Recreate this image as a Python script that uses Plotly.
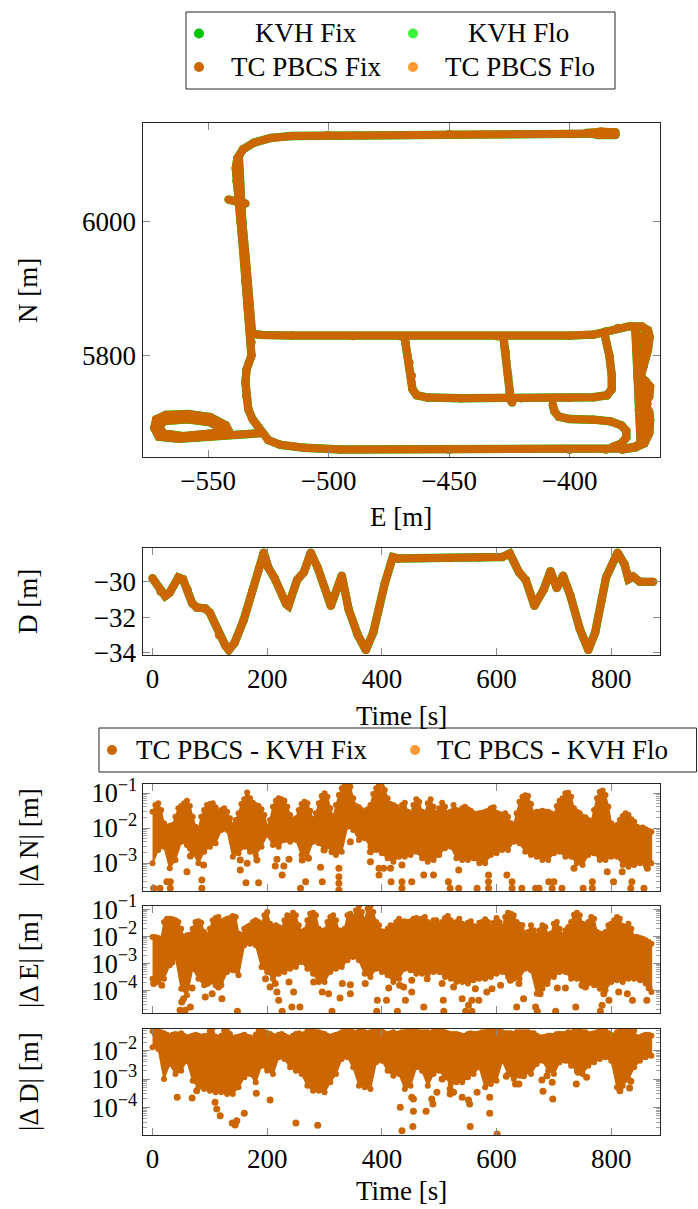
import plotly.graph_objects as go

W, H = 698, 1209
FONT = "Liberation Serif"
FS = 27
C_KVH_FIX = "#00C400"
C_KVH_FLO = "#3CF53C"
C_TC_FIX = "#CC6600"
C_TC_FLO = "#FF9933"

# ---------------- trajectory (E [m], N [m]) segments ----------------
seg_outer = [(-381, 6131.5), (-400, 6131), (-450, 6130.5), (-500, 6129.5), (-515, 6128), (-524, 6125),
             (-531, 6118), (-535.5, 6108), (-537.8, 6095), (-538.5, 6080), (-538.2, 6060), (-537.5, 6030),
             (-536.5, 6000), (-535.5, 5960), (-534.5, 5910), (-533.5, 5870), (-532.5, 5840), (-532, 5820),
             (-532, 5800), (-533, 5790), (-534, 5780), (-534.5, 5760), (-534.2, 5740), (-533.3, 5720),
             (-531.5, 5705), (-529.5, 5695), (-527.5, 5685), (-525, 5674), (-520, 5667), (-510, 5662.5),
             (-495, 5660), (-450, 5659.5), (-400, 5659.5), (-385, 5660), (-377, 5661.5), (-373, 5664),
             (-370.5, 5669)]
seg_top_blob = [(-381, 6133.5), (-387, 6134.5), (-393, 6132.5), (-388, 6129.5), (-381, 6129.5)]
seg_double = [(-537.2, 6095), (-536.8, 6060), (-535.8, 6000), (-534, 5930), (-532.5, 5860), (-531.8, 5835)]
seg_stub = [(-541.5, 6033), (-534.5, 6027)]
seg_loop = [(-527.5, 5684.5), (-534, 5683), (-541.6, 5683.5), (-549.1, 5679), (-562.1, 5676), (-570.4, 5679),
            (-572.3, 5692), (-571.5, 5705), (-567.6, 5711.5), (-558.4, 5713), (-549.1, 5708.5), (-542.6, 5696),
            (-541.5, 5688), (-547.2, 5684.5), (-560.2, 5680), (-568.5, 5684), (-570.5, 5695), (-568, 5702.5),
            (-558.4, 5705), (-549.1, 5700.5), (-544, 5692), (-542, 5686)]
seg_middle = [(-532.2, 5833), (-528, 5831), (-515, 5830), (-490, 5829.5), (-470, 5829), (-430, 5829),
              (-400, 5830), (-390, 5831.5), (-385, 5836), (-380, 5841.5), (-375, 5844), (-370, 5843.5),
              (-367.5, 5838), (-366.8, 5828), (-367.5, 5808.5), (-369.4, 5783.6), (-370.5, 5768.7),
              (-368.3, 5761.2), (-366.6, 5753.7), (-367, 5738.8), (-369.0, 5728.9), (-367, 5716.4),
              (-366.6, 5704), (-367, 5684.1), (-369, 5669.2), (-372.7, 5663.2), (-378.3, 5660)]
seg_strand2 = [(-372.7, 5838), (-372.4, 5808.5), (-371.8, 5768.7), (-371.3, 5718.9), (-370.5, 5669.2)]
seg_strand3 = [(-370.5, 5830), (-368.9, 5818.4), (-369.2, 5798.5), (-371.3, 5778.6), (-369.2, 5748.8),
               (-367.8, 5728.9), (-369.2, 5699), (-369.2, 5674)]
seg_inner = [(-468.5, 5829), (-468, 5818), (-467.5, 5805), (-466.5, 5790), (-465.5, 5770), (-465.2, 5750),
             (-463.5, 5741), (-459, 5737.5), (-445, 5736.5), (-420, 5736.5), (-400, 5737), (-390, 5738),
             (-384.5, 5741), (-382.5, 5750), (-382.5, 5770), (-383.5, 5800), (-385.5, 5832)]
seg_cross = [(-427.5, 5829), (-426.5, 5805), (-425.5, 5770), (-424.8, 5745), (-424.5, 5734), (-423.8, 5730)]
seg_hook = [(-407, 5727), (-406.3, 5717), (-404.5, 5709), (-400, 5705.5), (-390, 5704.5), (-383, 5702),
            (-378.5, 5696), (-376.5, 5688), (-376.5, 5678), (-378.5, 5669), (-382, 5664)]
track_segments = [seg_outer, seg_top_blob, seg_double, seg_stub, seg_loop, seg_middle,
                  seg_strand2, seg_strand3, seg_inner, seg_cross, seg_hook]

# ---------------- Down component vs time ----------------
d_time = [0, 14, 22, 30, 45, 53, 61, 69, 77, 92, 100, 116, 127, 133, 143, 159, 174, 186, 194, 202,
          213, 233, 237, 252, 264, 276, 288, 311, 330, 342, 358, 372, 385, 405, 419, 428, 470, 520,
          570, 610, 623, 639, 651, 666, 682, 694, 705, 716, 729, 745, 760, 772, 791, 811, 823, 830,
          838, 850, 873]
d_down = [-29.8, -30.55, -30.8, -30.6, -29.75, -29.85, -30.45, -31.2, -31.45, -31.5, -31.75, -33.0,
          -33.6, -33.85, -33.45, -32.15, -30.5, -29.2, -28.35, -29.2, -29.8, -31.25, -31.35, -29.9,
          -29.45, -28.35, -29.2, -31.35, -29.65, -31.55, -33.0, -33.85, -32.85, -30.1, -28.6, -28.68,
          -28.65, -28.65, -28.63, -28.6, -28.4, -29.45, -29.9, -31.35, -30.45, -29.4, -30.35, -29.65,
          -30.8, -32.65, -33.85, -32.85, -29.75, -28.35, -29.0, -29.85, -29.7, -30.0, -30.0]

# ---------------- |TC PBCS - KVH Fix| errors ----------------
# upper envelope of the dense point cloud, every 5 s from t = 0 s
dN_upper = [0.0293, 0.0454, 0.0507, 0.0327, 0.0136, 0.0109, 0.0114, 0.0122, 0.0211, 0.0365,
            0.0426, 0.0507, 0.0604, 0.0426, 0.0211, 0.0109, 0.00916, 0.0211, 0.0327, 0.0454,
            0.0485, 0.0507, 0.0389, 0.0293, 0.0327, 0.0365, 0.0293, 0.0189, 0.0122, 0.0169,
            0.0262, 0.0485, 0.0659, 0.104, 0.0705, 0.053, 0.0454, 0.0426, 0.0341, 0.0235,
            0.0109, 0.0169, 0.0407, 0.0604, 0.0705, 0.0659, 0.0604, 0.0407, 0.0235, 0.0169,
            0.0189, 0.0327, 0.0485, 0.0565, 0.0507, 0.0313, 0.0177, 0.0262, 0.0507, 0.082,
            0.098, 0.0785, 0.0365, 0.0211, 0.0454, 0.0877, 0.136, 0.169, 0.189, 0.152,
            0.0705, 0.0426, 0.0389, 0.0327, 0.0293, 0.0341, 0.0454, 0.0935, 0.136, 0.169,
            0.152, 0.122, 0.0705, 0.0485, 0.0454, 0.0407, 0.0327,
            0.0454, 0.053, 0.0293, 0.0262, 0.0454, 0.0659, 0.0565, 0.0293, 0.0262, 0.0507,
            0.0659, 0.0407, 0.0262, 0.0365, 0.053, 0.0407, 0.0262, 0.0293, 0.0454, 0.0327,
            0.0293, 0.0365, 0.0407, 0.0341, 0.0313, 0.0262, 0.0251, 0.0262, 0.0274, 0.0293,
            0.0313, 0.0365, 0.0389, 0.0274, 0.0251, 0.0235, 0.0262, 0.0211, 0.0136, 0.0122,
            0.0262, 0.0565, 0.0785, 0.0857, 0.082, 0.0485, 0.0262, 0.0293, 0.0293, 0.0313,
            0.0293, 0.0293, 0.0262, 0.0235, 0.0426, 0.0604, 0.0705, 0.098, 0.102, 0.0785,
            0.0365, 0.0293, 0.0262, 0.0211, 0.0202, 0.0169, 0.0152, 0.0327, 0.0705, 0.109,
            0.117, 0.0877, 0.0407, 0.0136, 0.0109, 0.0122, 0.0169, 0.022, 0.0262, 0.0235,
            0.0177, 0.0152, 0.0109, 0.00977, 0.0104, 0.00916, 0.0084, 0.00786]
# lower edge of the dense cloud, every 10 s from t = 0 s
dN_lower = [9.77e-4, 2.35e-3, 2.93e-3, 7.05e-4, 1.22e-3, 4.07e-3, 3.27e-3, 2.11e-3, 9.77e-4, 2.11e-3,
            2.93e-3, 3.65e-3, 8.77e-3, 8.77e-3, 1.52e-3, 1.89e-3, 2.93e-3, 2.11e-3, 1.69e-3, 2.93e-3,
            6.3e-3, 3.27e-3, 2.93e-3, 4.54e-3, 4.07e-3, 4.54e-3, 1.69e-3, 1.52e-3, 4.07e-3, 3.65e-3,
            2.35e-3, 2.93e-3, 1.69e-3, 2.11e-3, 1.09e-2, 8.77e-3, 4.54e-3, 5.07e-3, 2.93e-3, 2.35e-3,
            1.89e-3, 1.36e-3, 1.09e-3, 1.52e-3,
            1.52e-3, 1.69e-3, 2.11e-3, 1.36e-3, 1.09e-3, 1.22e-3, 1.69e-3, 2.62e-3, 2.93e-3, 1.36e-3,
            1.22e-3, 1.22e-3, 1.36e-3, 9.77e-4, 9.77e-4, 1.69e-3, 1.89e-3, 2.35e-3, 2.35e-3, 4.07e-3,
            3.65e-3, 2.11e-3, 1.69e-3, 1.52e-3, 1.22e-3, 1.22e-3, 1.89e-3, 2.11e-3, 1.52e-3, 1.52e-3,
            9.77e-4, 8.77e-4, 1.69e-3, 1.89e-3, 1.22e-3, 1.22e-3, 1.52e-3, 1.52e-3, 8.77e-4, 7.85e-4,
            8.77e-4, 9.77e-4, 8.77e-4, 9.77e-4]
dN_isolated = [(2, 1.89e-4), (13, 1.89e-4), (31, 1.89e-4), (25, 2.93e-4), (31, 2.93e-4), (60, 5.65e-4),
               (66, 1.58e-3), (66, 2.62e-3), (86, 1.89e-4), (86, 3.27e-4), (89, 8.77e-4), (153, 1.22e-3),
               (153, 6.31e-4), (163, 2.74e-4), (165, 9.77e-4), (182, 1.22e-3), (185, 2.74e-4), (214, 8.2e-4),
               (217, 1.27e-3), (229, 8.2e-4), (226, 4.54e-4), (238, 1.27e-3), (258, 1.89e-4), (261, 1.22e-3),
               (267, 2.93e-4), (272, 1.36e-3), (293, 7.52e-4), (296, 2.93e-4), (299, 2.35e-3), (313, 2.11e-3),
               (325, 7.05e-4), (325, 4.07e-4), (325, 2.62e-4), (325, 1.69e-4), (345, 4.07e-3), (380, 2.11e-3),
               (380, 1.09e-3), (395, 7.05e-4), (395, 4.54e-4), (403, 7.05e-4), (415, 7.05e-4), (416, 2.93e-4),
               (435, 8.77e-4), (435, 2.93e-4), (435, 1.89e-4), (452, 2.93e-4), (473, 4.54e-4), (490, 4.54e-4),
               (516, 2.93e-4), (519, 1.89e-4), (534, 1.89e-4), (534, 6.31e-4), (566, 1.89e-4), (586, 1.89e-4),
               (586, 2.93e-4), (586, 4.54e-4), (618, 4.54e-4), (627, 2.93e-4), (627, 1.89e-4), (644, 1.89e-4),
               (668, 1.89e-4), (674, 1.89e-4), (691, 2.93e-4), (697, 1.89e-4), (700, 2.93e-4), (714, 1.89e-4),
               (735, 7.05e-4), (751, 1.89e-4), (767, 2.93e-4), (767, 1.89e-4), (793, 5.65e-4), (804, 2.93e-4),
               (819, 5.65e-4), (834, 1.89e-4), (836, 2.93e-4), (857, 1.89e-4), (863, 7.05e-4)]

dE_upper = [9.44e-3, 9.44e-3, 8.67e-3, 8.2e-3, 3.4e-2, 4.51e-2, 4.51e-2, 4.27e-2, 3.92e-2, 3.4e-2,
            1.92e-2, 9.44e-3, 1.09e-2, 1.15e-2, 1.92e-2, 3.4e-2, 3.6e-2, 3.21e-2, 1.45e-2, 1.09e-2,
            1.92e-2, 3.92e-2, 4.78e-2, 5.2e-2, 3.4e-2, 3.92e-2, 4.51e-2, 4.78e-2, 5.66e-2, 5.2e-2,
            1.26e-2, 1.09e-2, 1.92e-2, 2.22e-2, 2.55e-2, 3.4e-2, 3.92e-2, 3.4e-2, 2.94e-2, 6.0e-2,
            7.96e-2, 2.94e-2, 2.22e-2, 2.55e-2, 2.22e-2, 1.92e-2, 3.92e-2, 6.0e-2, 5.2e-2, 7.53e-2,
            6.0e-2, 2.55e-2, 1.45e-2, 1.67e-2, 3.92e-2, 6.92e-2, 7.53e-2, 6.0e-2, 1.92e-2, 1.53e-2,
            1.67e-2, 3.4e-2, 5.2e-2, 6.0e-2, 3.92e-2, 1.67e-2, 1.53e-2, 1.92e-2, 6.0e-2, 6.92e-2,
            5.2e-2, 9.18e-2, 1.33e-1, 7.96e-2, 3.92e-2, 1.06e-1, 1.33e-1, 7.96e-2, 3.4e-2, 2.55e-2,
            1.53e-2, 1.45e-2, 1.92e-2, 2.55e-2, 2.41e-2, 3.4e-2, 4.51e-2,
            3.4e-2, 3.6e-2, 3.4e-2, 3.6e-2, 4.51e-2, 4.78e-2, 4.27e-2, 4.51e-2, 5.2e-2, 3.4e-2,
            2.7e-2, 3.92e-2, 3.92e-2, 2.55e-2, 3.4e-2, 4.78e-2, 5.66e-2, 3.92e-2, 2.94e-2, 3.4e-2,
            4.51e-2, 2.94e-2, 2.22e-2, 3.21e-2, 3.6e-2, 2.41e-2, 2.22e-2, 3.21e-2, 3.4e-2, 4.27e-2,
            3.4e-2, 2.22e-2, 3.21e-2, 4.78e-2, 3.4e-2, 2.22e-2, 5.2e-2, 7.53e-2, 6.92e-2, 6.0e-2,
            3.4e-2, 2.7e-2, 2.55e-2, 1.26e-2, 1.45e-2, 2.55e-2, 1.67e-2, 1.09e-2, 1.67e-2, 2.55e-2,
            2.22e-2, 1.09e-2, 1.26e-2, 2.94e-2, 3.4e-2, 1.92e-2, 1.09e-2, 1.67e-2, 2.22e-2, 3.4e-2,
            6.34e-2, 7.53e-2, 6.0e-2, 2.94e-2, 2.55e-2, 3.4e-2, 5.2e-2, 4.51e-2, 1.45e-2, 1.26e-2,
            1.09e-2, 1.45e-2, 2.55e-2, 2.94e-2, 3.92e-2, 5.2e-2, 4.51e-2, 2.41e-2, 2.22e-2, 2.94e-2,
            1.92e-2, 9.44e-3, 9.44e-3, 8.67e-3, 8.2e-3, 7.11e-3, 6.17e-3, 5.35e-3]
dE_lower = [2.7e-4, 2.04e-4, 2.7e-4, 8.43e-4, 1.72e-3, 1.15e-4, 6.53e-5, 6.34e-4, 2.7e-4, 1.53e-4,
            2.04e-4, 1.53e-4, 1.53e-4, 4.77e-4, 5.5e-4, 3.59e-4, 4.64e-3, 5.35e-3, 4.64e-3, 7.31e-4,
            4.77e-4, 2.7e-4, 4.14e-4, 4.77e-4, 6.34e-4, 7.31e-4, 1.12e-3, 6.34e-4, 4.14e-4, 2.04e-4,
            2.04e-4, 4.77e-4, 6.34e-4, 7.31e-4, 1.29e-3, 1.72e-3, 1.29e-3, 4.14e-4, 3.12e-4, 6.34e-4,
            4.77e-4, 3.59e-4, 2.04e-4, 2.7e-4,
            6.34e-4, 5.5e-4, 4.14e-4, 4.14e-4, 4.14e-4, 4.77e-4, 4.77e-4, 3.12e-4, 2.7e-4, 2.04e-4,
            2.04e-4, 1.77e-4, 2.35e-4, 2.7e-4, 2.7e-4, 3.12e-4, 4.14e-4, 4.77e-4, 3.12e-4, 2.7e-4,
            2.7e-4, 6.34e-4, 5.5e-4, 7.53e-5, 1.15e-4, 2.7e-4, 3.12e-4, 4.77e-4, 4.77e-4, 2.7e-4,
            2.7e-4, 2.04e-4, 1.77e-4, 1.53e-4, 1.15e-4, 1.0e-4, 2.04e-4, 2.35e-4, 2.04e-4, 2.7e-4,
            2.7e-4, 2.35e-4, 1.77e-4, 8.67e-5]
dE_isolated = [(2, 1.77e-4), (16, 1.53e-4), (34, 1.12e-3), (48, 1.82e-5), (51, 3.7e-5), (54, 4.91e-5),
               (57, 1.82e-5), (66, 2.41e-5), (69, 1.22e-4), (92, 5.66e-5), (95, 1.77e-4), (104, 7.53e-5),
               (115, 1.33e-4), (118, 2.04e-4), (121, 4.91e-5), (148, 1.67e-5), (197, 2.7e-4), (205, 1.33e-4),
               (214, 1.77e-4), (217, 8.67e-5), (220, 4.26e-5), (226, 1.67e-5), (238, 2.04e-4), (243, 2.41e-5),
               (246, 8.67e-5), (257, 2.41e-5), (281, 2.04e-4), (296, 8.67e-5), (307, 7.53e-5), (313, 1.67e-5),
               (327, 5.2e-5), (331, 1.77e-4), (345, 1.62e-4), (345, 7.53e-5), (371, 1.77e-4), (391, 1.67e-5),
               (392, 4.26e-5), (408, 4.26e-5), (412, 1.22e-4), (427, 1.67e-5), (431, 1.53e-4),
               (438, 1.33e-4), (441, 4.26e-5), (452, 8.67e-5), (452, 2.35e-4), (473, 2.41e-5), (479, 2.7e-4),
               (505, 1.77e-4), (507, 4.26e-5), (508, 1.67e-5), (525, 1.33e-4), (540, 4.91e-5), (546, 1.67e-5),
               (551, 2.78e-5), (557, 4.26e-5), (557, 1.67e-5), (563, 1.15e-4), (569, 4.26e-5), (583, 8.67e-5),
               (592, 1.15e-4), (607, 1.53e-4), (624, 2.35e-4), (635, 2.41e-5), (639, 1.77e-4), (647, 4.91e-5),
               (668, 2.41e-5), (671, 1.67e-5), (676, 7.53e-5), (688, 1.77e-4), (703, 1.67e-5), (706, 1.22e-4),
               (720, 1.22e-4), (738, 2.41e-5), (749, 1.53e-4), (755, 1.33e-4), (781, 1.67e-5), (784, 2.78e-5),
               (787, 7.53e-5), (796, 4.26e-5), (813, 8.67e-5), (828, 7.53e-5), (837, 4.26e-5), (862, 4.26e-5),
               (866, 1.22e-4), (784, 1.15e-2)]

dD_upper = [4.81e-2, 5.36e-2, 4.81e-2, 4.44e-2, 4.09e-2, 3.67e-2, 2.96e-2, 3.67e-2, 3.87e-2, 3.67e-2,
            4.09e-2, 3.38e-2, 2.8e-2, 3.12e-2, 3.38e-2, 3.67e-2, 3.38e-2, 3.12e-2, 3.3e-2, 3.38e-2,
            5.08e-2, 6.3e-2, 3.12e-2, 2.8e-2, 3.38e-2, 5.08e-2, 4.81e-2, 3.87e-2, 2.8e-2, 2.96e-2,
            3.12e-2, 3.38e-2, 3.67e-2, 3.12e-2, 2.96e-2, 2.58e-2, 3.67e-2, 4.81e-2, 5.08e-2, 4.44e-2,
            4.09e-2, 3.87e-2, 3.38e-2, 3.12e-2, 3.67e-2, 3.87e-2, 3.38e-2, 2.96e-2, 2.8e-2, 3.38e-2,
            3.87e-2, 4.09e-2, 3.67e-2, 3.87e-2, 4.81e-2, 5.82e-2, 5.08e-2, 4.44e-2, 4.44e-2, 4.09e-2,
            3.87e-2, 3.38e-2, 3.12e-2, 3.38e-2, 3.67e-2, 3.87e-2, 4.44e-2, 4.81e-2, 4.44e-2, 4.81e-2,
            4.44e-2, 4.09e-2, 4.81e-2, 5.08e-2, 4.44e-2, 4.09e-2, 4.44e-2, 4.81e-2, 5.82e-2, 6.3e-2,
            4.81e-2, 4.09e-2, 3.87e-2, 4.09e-2, 4.44e-2, 3.87e-2, 4.09e-2,
            4.44e-2, 4.44e-2, 4.81e-2, 5.08e-2, 5.08e-2, 4.81e-2, 4.44e-2, 4.44e-2, 4.44e-2, 4.44e-2,
            4.09e-2, 4.81e-2, 4.81e-2, 4.81e-2, 4.81e-2, 4.44e-2, 4.09e-2, 3.87e-2, 3.87e-2, 3.87e-2,
            3.67e-2, 3.38e-2, 3.38e-2, 3.87e-2, 4.09e-2, 3.87e-2, 3.87e-2, 4.09e-2, 4.44e-2, 4.44e-2,
            4.81e-2, 5.08e-2, 5.36e-2, 5.82e-2, 5.08e-2, 4.44e-2, 4.09e-2, 4.09e-2, 4.09e-2, 3.87e-2,
            4.44e-2, 4.44e-2, 4.44e-2, 4.44e-2, 4.44e-2, 4.09e-2, 4.09e-2, 3.38e-2, 2.96e-2, 2.96e-2,
            3.12e-2, 3.38e-2, 3.38e-2, 3.38e-2, 3.87e-2, 3.87e-2, 3.87e-2, 3.87e-2, 4.44e-2, 4.09e-2,
            4.81e-2, 5.08e-2, 4.81e-2, 4.44e-2, 4.44e-2, 3.87e-2, 3.87e-2, 4.09e-2, 4.44e-2, 4.81e-2,
            5.08e-2, 4.81e-2, 4.09e-2, 3.67e-2, 3.38e-2, 4.44e-2, 6.3e-2, 5.82e-2, 5.36e-2, 6.3e-2,
            6.67e-2, 5.08e-2, 2.96e-2, 2.96e-2, 3.38e-2, 3.67e-2, 3.67e-2, 3.38e-2]
dD_lower = [1.31e-2, 1.15e-2, 1.0e-3, 3.38e-3, 1.5e-3, 1.97e-3, 4.44e-3, 8.73e-4, 5.08e-4, 4.44e-4,
            3.87e-4, 3.38e-4, 3.38e-4, 2.96e-4, 2.96e-4, 5.08e-4, 1.15e-3, 1.5e-3, 7.63e-4, 2.96e-3,
            1.97e-3, 1.5e-3, 5.82e-3, 5.08e-3, 2.58e-3, 1.97e-3, 1.5e-3, 5.82e-4, 3.87e-4, 3.87e-4,
            3.38e-4, 7.63e-4, 1.5e-3, 5.08e-3, 5.82e-3, 2.58e-3, 5.82e-4, 5.08e-4, 4.44e-4, 3.87e-3,
            4.44e-3, 1.97e-3, 1.31e-3, 1.5e-3,
            4.44e-4, 5.82e-4, 2.58e-3, 1.97e-3, 5.82e-4, 1.5e-3, 1.97e-3, 1.15e-3, 6.67e-4, 7.63e-4,
            7.63e-4, 1.15e-3, 1.5e-3, 2.58e-3, 5.08e-4, 6.67e-4, 8.73e-4, 4.44e-3, 1.5e-3, 1.0e-3,
            1.31e-3, 1.72e-3, 1.5e-3, 3.38e-3, 4.44e-3, 1.97e-3, 1.5e-3, 3.87e-3, 4.44e-3, 2.96e-3,
            1.97e-3, 1.5e-3, 2.96e-3, 3.87e-3, 5.08e-3, 5.82e-3, 4.44e-3, 5.08e-4, 5.82e-4, 1.0e-3,
            2.58e-3, 4.44e-3, 5.82e-3, 6.67e-3]
dD_isolated = [(43, 2.25e-4), (69, 2.13e-4), (77, 3.87e-4), (109, 1.5e-4), (112, 8.73e-5), (118, 5.08e-5),
               (139, 2.8e-5), (144, 2.38e-5), (147, 3.38e-5), (160, 6.14e-5), (181, 3.12e-4), (205, 1.82e-4),
               (250, 2.8e-5), (288, 2.32e-5), (432, 1.0e-4), (435, 1.5e-5), (452, 2.25e-4), (455, 1.97e-4),
               (455, 7.22e-5), (454, 2.13e-5), (477, 7.22e-5), (487, 1.97e-4), (489, 1.31e-4), (496, 3.38e-4),
               (505, 1.0e-3), (519, 4.44e-4), (519, 2.96e-4), (525, 3.38e-4), (540, 2.25e-4), (551, 1.82e-4),
               (553, 1.31e-4), (554, 2.13e-5), (566, 3.38e-4), (588, 2.25e-4), (588, 6.14e-5), (601, 1.15e-5),
               (617, 1.24e-3), (633, 6.67e-4), (639, 6.67e-4), (647, 1.31e-3), (679, 9.22e-4), (681, 3.67e-4),
               (688, 1.31e-3), (697, 7.63e-4), (698, 1.97e-4), (739, 6.67e-4), (742, 1.72e-3), (757, 1.15e-3),
               (815, 5.08e-4), (815, 3.87e-4), (832, 4.81e-4), (834, 8.28e-4)]


def px(x):
    return x / W


def py(y):
    return 1 - y / H


fig = go.Figure()

# ---- N/E trajectory
tr_E, tr_N = [], []
for seg in track_segments:
    tr_E += [p[0] for p in seg] + [None]
    tr_N += [p[1] for p in seg] + [None]
fig.add_trace(go.Scatter(x=tr_E, y=tr_N, mode="lines+markers", name="KVH Fix",
                         line=dict(color=C_KVH_FIX, width=8.4), marker=dict(color=C_KVH_FIX, size=8.4),
                         connectgaps=False, xaxis="x", yaxis="y", hoverinfo="skip"))
fig.add_trace(go.Scatter(x=tr_E, y=tr_N, mode="lines+markers", name="TC PBCS Fix",
                         line=dict(color=C_TC_FIX, width=8), marker=dict(color=C_TC_FIX, size=8),
                         connectgaps=False, xaxis="x", yaxis="y", hoverinfo="skip"))

# ---- D vs time
fig.add_trace(go.Scatter(x=d_time, y=d_down, mode="lines+markers", name="KVH Fix",
                         line=dict(color=C_KVH_FIX, width=8.4), marker=dict(color=C_KVH_FIX, size=8.4),
                         xaxis="x2", yaxis="y2", hoverinfo="skip"))
fig.add_trace(go.Scatter(x=d_time, y=d_down, mode="lines+markers", name="TC PBCS Fix",
                         line=dict(color=C_TC_FIX, width=8), marker=dict(color=C_TC_FIX, size=8),
                         xaxis="x2", yaxis="y2", hoverinfo="skip"))

# ---- error panels
panels = [(dN_upper, dN_lower, dN_isolated, "x3", "y3"),
          (dE_upper, dE_lower, dE_isolated, "x4", "y4"),
          (dD_upper, dD_lower, dD_isolated, "x5", "y5")]
for up, lo, iso, xa, ya in panels:
    t_up = [5 * i for i in range(len(up))]
    t_lo = [10 * i for i in range(len(lo))]
    fig.add_trace(go.Scatter(x=t_up + t_lo[::-1], y=up + lo[::-1], mode="lines", fill="toself",
                             fillcolor=C_TC_FIX, line=dict(color=C_TC_FIX, width=1.5),
                             name="TC PBCS - KVH Fix", xaxis=xa, yaxis=ya, hoverinfo="skip"))
    fig.add_trace(go.Scatter(x=t_up + t_lo, y=up + lo, mode="markers",
                             marker=dict(color=C_TC_FIX, size=6), name="TC PBCS - KVH Fix",
                             xaxis=xa, yaxis=ya, hoverinfo="skip"))
    fig.add_trace(go.Scatter(x=[p[0] for p in iso], y=[p[1] for p in iso], mode="markers",
                             marker=dict(color=C_TC_FIX, size=7), name="TC PBCS - KVH Fix",
                             xaxis=xa, yaxis=ya, hoverinfo="skip"))

XD = [px(142.5), px(660)]
tickfont = dict(family=FONT, size=FS, color="black")
base = dict(showline=True, linecolor="#262626", linewidth=1, mirror="allticks", ticks="inside",
            ticklen=7, tickwidth=1, tickcolor="#8a8a8a", showgrid=False, zeroline=False,
            automargin=False, tickfont=tickfont)
logax = dict(base, type="log", dtick=1, exponentformat="power", showexponent="all",
             tickfont=dict(family=FONT, size=21, color="black"),
             minor=dict(ticks="inside", ticklen=4, tickwidth=1, tickcolor="#a5a5a5", dtick="D1",
                        showgrid=False))

fig.update_layout(
    width=W, height=H, autosize=False,
    margin=dict(l=0, r=0, t=0, b=0, pad=0, autoexpand=False),
    paper_bgcolor="white", plot_bgcolor="white", showlegend=False,
    font=dict(family=FONT, size=FS, color="black"),
    xaxis=dict(base, domain=XD, range=[-577.2, -362.5], dtick=50, anchor="y"),
    yaxis=dict(base, domain=[py(457), py(123)], range=[5648.8, 6147.3], dtick=200, anchor="x"),
    xaxis2=dict(base, domain=XD, range=[-17.5, 885], dtick=200, anchor="y2"),
    yaxis2=dict(base, domain=[py(655), py(547.5)], range=[-34.13, -28.06], dtick=2, anchor="x2"),
    xaxis3=dict(base, domain=XD, range=[-17.5, 885], dtick=200, anchor="y3", showticklabels=False),
    yaxis3=dict(logax, domain=[py(891), py(784)], range=[-3.8, -0.743], anchor="x3"),
    xaxis4=dict(base, domain=XD, range=[-17.5, 885], dtick=200, anchor="y4", showticklabels=False),
    yaxis4=dict(logax, domain=[py(1013), py(906)], range=[-4.84, -0.877], anchor="x4"),
    xaxis5=dict(base, domain=XD, range=[-17.5, 885], dtick=200, anchor="y5"),
    yaxis5=dict(logax, domain=[py(1135), py(1029)], range=[-4.976, -1.235], anchor="x5"),
)

shapes = [
    dict(type="rect", xref="paper", yref="paper", x0=px(186), x1=px(615), y0=py(89), y1=py(12),
         line=dict(color="#262626", width=1), fillcolor="rgba(0,0,0,0)"),
    dict(type="rect", xref="paper", yref="paper", x0=px(99), x1=px(696.5), y0=py(772), y1=py(728),
         line=dict(color="#262626", width=1), fillcolor="rgba(0,0,0,0)"),
]
for cx, cy, col in [(199, 33.5, C_KVH_FIX), (413, 33.5, C_KVH_FLO), (199, 67, C_TC_FIX),
                    (413, 67, C_TC_FLO), (112, 750, C_TC_FIX), (415, 750, C_TC_FLO)]:
    shapes.append(dict(type="circle", xref="paper", yref="paper", xsizemode="pixel",
                       ysizemode="pixel", xanchor=px(cx), yanchor=py(cy), x0=-5, x1=5, y0=-5, y1=5,
                       fillcolor=col, line=dict(width=0)))
fig.update_layout(shapes=shapes)

ann = []


def text(s, x, y, xanchor="center", angle=0):
    ann.append(dict(text=s, x=px(x), y=py(y), xref="paper", yref="paper", showarrow=False,
                    xanchor=xanchor, yanchor="middle", textangle=angle, borderpad=0,
                    font=dict(family=FONT, size=FS, color="black")))


text("KVH Fix", 306, 33.5)
text("KVH Flo", 518, 33.5)
text("TC PBCS Fix", 306.5, 67)
text("TC PBCS Flo", 520, 67)
text("TC PBCS - KVH Fix", 135, 750, "left")
text("TC PBCS - KVH Flo", 436, 750, "left")
text("E [m]", 401, 517)
text("Time [s]", 401, 716)
text("Time [s]", 401, 1191)
text("N [m]", 28, 291, angle=-90)
text("D [m]", 28, 602, angle=-90)
text("|Δ N| [m]", 29, 838, angle=-90)
text("|Δ E| [m]", 29, 960, angle=-90)
text("|Δ D| [m]", 29, 1082, angle=-90)
fig.update_layout(annotations=ann)

fig.write_html("out.html", config={"displayModeBar": False},
               post_script="document.body.style.margin='0';document.body.style.overflow='hidden';")
